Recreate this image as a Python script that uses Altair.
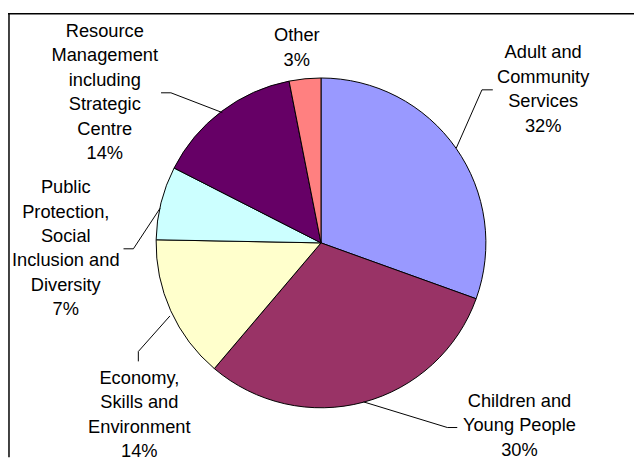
import altair as alt
import pandas as pd

# ---- data ----
categories = [
    "Adult and Community Services",
    "Children and Young People",
    "Economy, Skills and Environment",
    "Public Protection, Social Inclusion and Diversity",
    "Resource Management including Strategic Centre",
    "Other",
]
# slice sizes as drawn (in %)
shares = [30.5, 30.7, 14.1, 7.2, 14.4, 3.1]
label_lines = [
    ["Adult and", "Community", "Services", "32%"],
    ["Children and", "Young People", "30%"],
    ["Economy,", "Skills and", "Environment", "14%"],
    ["Public", "Protection,", "Social", "Inclusion and", "Diversity", "7%"],
    ["Resource", "Management", "including", "Strategic", "Centre", "14%"],
    ["Other", "3%"],
]
colors = ["#9999FF", "#993366", "#FFFFCC", "#CCFFFF", "#660066", "#FF8080"]

# ---- layout (page pixel positions) ----
ORIGIN = 8  # page margin
W, H = 634, 452
CX, CY, R = 325, 243, 167
label_pos = [(550, 56), (526, 409), (141, 385.5), (66.5, 192.5), (106, 34.3), (300.5, 39)]
leaders = [
    [(462, 147), (488, 88), (499, 88)],
    [(368, 404), (453, 430), (463, 430)],
    [(172, 317), (140, 353), (140, 363)],
    [(162, 208), (135, 249), (125, 249)],
    [(225, 111), (173, 91), (163, 91)],
    [],
]
FONT = "Liberation Sans"
FS = 18.5
LH = 24.8

pie_df = pd.DataFrame({
    "category": categories,
    "share": shares,
    "idx": list(range(len(categories))),
})

lab_df = pd.DataFrame({
    "category": categories,
    "text": ["\n".join(l) for l in label_lines],
    "lx": [p[0] - ORIGIN for p in label_pos],
    "ly": [p[1] - ORIGIN for p in label_pos],
})

rows = []
for cat, pts in zip(categories, leaders):
    for i, (px, py) in enumerate(pts):
        rows.append({"category": cat, "i": i, "px": px - ORIGIN, "py": py - ORIGIN})
lead_df = pd.DataFrame(rows)

pie = alt.Chart(pie_df).mark_arc(
    outerRadius=R, stroke="black", strokeWidth=1
).encode(
    theta=alt.Theta("share:Q", stack=True),
    color=alt.Color("category:N", scale=alt.Scale(domain=categories, range=colors), legend=None),
    order=alt.Order("idx:Q"),
    x=alt.value(CX - ORIGIN),
    y=alt.value(CY - ORIGIN),
)

labels = alt.Chart(lab_df).mark_text(
    font=FONT, fontSize=FS, lineHeight=LH, lineBreak="\n",
    align="center", baseline="alphabetic", color="black",
).encode(
    x=alt.X("lx:Q", scale=None, axis=None),
    y=alt.Y("ly:Q", scale=None, axis=None),
    text="text:N",
)

lines = alt.Chart(lead_df).mark_line(color="black", strokeWidth=1).encode(
    x=alt.X("px:Q", scale=None, axis=None),
    y=alt.Y("py:Q", scale=None, axis=None),
    detail="category:N",
    order="i:Q",
)

frame_df = pd.DataFrame({"k": [0]})
top_border = alt.Chart(frame_df).mark_rule(color="black", strokeWidth=1.5).encode(
    x=alt.value(0), x2=alt.value(W), y=alt.value(11 - ORIGIN)
)
left_border = alt.Chart(frame_df).mark_rule(color="black", strokeWidth=1.5).encode(
    x=alt.value(1), y=alt.value(11 - ORIGIN), y2=alt.value(H)
)

chart = alt.layer(top_border, left_border, pie, lines, labels).properties(
    width=W, height=H, padding=0, autosize="none"
).configure_view(stroke=None)

chart.save("out.html", embed_options={"renderer": "svg", "actions": False})
